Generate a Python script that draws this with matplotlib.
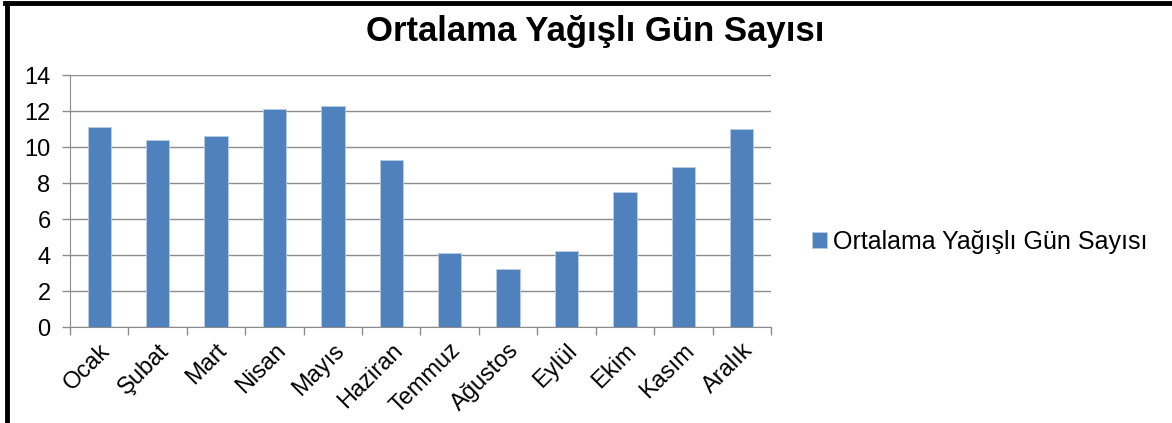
import matplotlib.pyplot as plt
import numpy as np

plt.rcParams['font.family'] = ['Liberation Sans', 'DejaVu Sans']

# data
months = ['Ocak', 'Şubat', 'Mart', 'Nisan', 'Mayıs', 'Haziran',
          'Temmuz', 'Ağustos', 'Eylül', 'Ekim', 'Kasım', 'Aralık']
rainy_days = [11.1, 10.4, 10.6, 12.1, 12.3, 9.3, 4.1, 3.2, 4.2, 7.5, 8.9, 11.0]
series_name = 'Ortalama Yağışlı Gün Sayısı'

fig = plt.figure(figsize=(11.72, 4.23), dpi=100)
ax = fig.add_axes([70 / 1172, 1 - 327 / 423, 701 / 1172, 252 / 423])

x = np.arange(len(months))
ax.bar(x, rainy_days, width=0.4, color='#4f81bd', edgecolor='#b9cde5',
       linewidth=0.6, label=series_name, zorder=3)

ax.set_xlim(-0.5, len(months) - 0.5)
ax.set_ylim(0, 14)
ax.set_yticks(range(0, 15, 2))
ax.yaxis.grid(True, color='#8c8c8c', linewidth=1)
ax.set_axisbelow(True)

# category labels under the bars, tick marks between categories
ax.set_xticks(x)
ax.set_xticklabels(months, rotation=45, ha='right', rotation_mode='anchor',
                   fontsize=17)
ax.tick_params(axis='x', length=0, pad=9)
ax.set_xticks(np.arange(-0.5, len(months)), minor=True)
ax.tick_params(axis='x', which='minor', length=6, color='#8c8c8c', width=1)
ax.tick_params(axis='y', length=6, color='#8c8c8c', width=1, labelsize=17, pad=8)

for side in ['top', 'right']:
    ax.spines[side].set_visible(False)
for side in ['left', 'bottom']:
    ax.spines[side].set_color('#8c8c8c')

fig.text(595 / 1172, 1 - 32 / 423, series_name, ha='center', va='center',
         fontsize=25, fontweight='bold')

ax.legend(loc='center left', bbox_to_anchor=(812 / 1172, 1 - 242 / 423),
          bbox_transform=fig.transFigure, frameon=False, fontsize=18,
          handlelength=0.6, handleheight=0.6, handletextpad=0.25,
          borderaxespad=0, borderpad=0)

# black frame at left and top
fig.add_artist(plt.Line2D([6.5 / 1172, 6.5 / 1172], [0, 1 - 3 / 423],
                          color='black', linewidth=3.5))
fig.add_artist(plt.Line2D([5 / 1172, 1], [1 - 3 / 423, 1 - 3 / 423],
                          color='black', linewidth=3.5))

fig.savefig('out.png', dpi=100)
